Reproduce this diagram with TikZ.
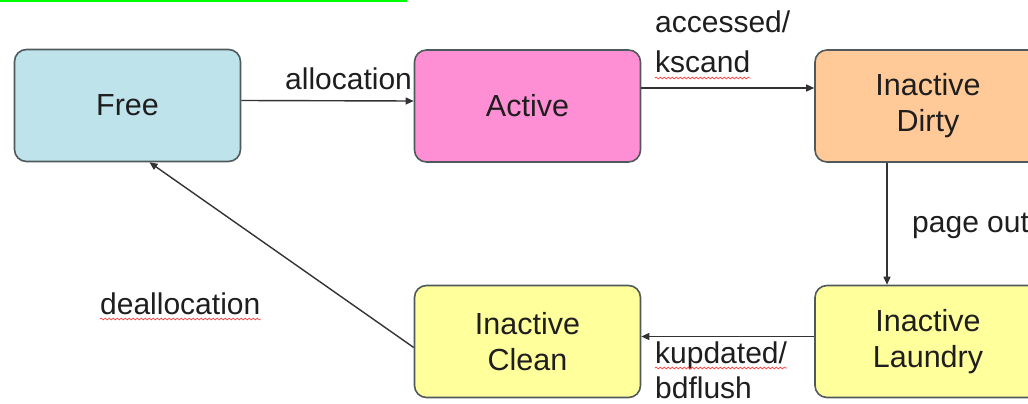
\documentclass[tikz,border=0pt]{standalone}
\usepackage{fontspec}
\setmainfont{Liberation Sans}
\usetikzlibrary{arrows.meta,calc,decorations.pathmorphing}
\definecolor{freeblue}{HTML}{BFE3EA}
\definecolor{activepink}{HTML}{FF8FD4}
\definecolor{dirtyorange}{HTML}{FFC998}
\definecolor{cleanyellow}{HTML}{FFFF9C}
\definecolor{boxline}{HTML}{505A5C}
\definecolor{arrowline}{HTML}{333333}
\definecolor{txt}{HTML}{1E1E1E}
\begin{document}
\begin{tikzpicture}[x=1pt,y=-1pt,
  state/.style={draw=boxline,line width=1.6pt,rounded corners=12pt,minimum width=226pt,minimum height=112pt,inner sep=0pt,align=center,text=txt,font=\fontsize{30.5}{36}\selectfont},
  trans/.style={draw=arrowline,line width=1.4pt,-{Triangle[length=8pt,width=7pt]}},
  lbl/.style={inner sep=0pt,anchor=base west,text=txt,font=\fontsize{30}{38}\selectfont},
  squiggle/.style={draw=red!75,line width=0.7pt,decorate,decoration={snake,amplitude=0.9pt,segment length=4pt}}]
\useasboundingbox (0,0) rectangle (1028,404);
\clip (0,0) rectangle (1028,404);
\fill[green] (0,0) rectangle (407,2.5);

\node[state,fill=freeblue] (free) at (127.5,105.5) {Free};
\node[state,fill=activepink] (active) at (527.5,106) {Active};
\node[state,fill=dirtyorange] (dirty) at (928,106) {Inactive\\Dirty};
\node[state,fill=cleanyellow] (clean) at (527.5,341.5) {Inactive\\Clean};
\node[state,fill=cleanyellow] (laundry) at (928,341.5) {Inactive\\Laundry};

\draw[trans] ($(free.east)+(0,-5)$) -- ($(active.west)+(0,-5)$);
\draw[trans] ($(active.east)+(0,-18)$) -- ($(dirty.west)+(0,-18)$);
\draw[trans] ($(dirty.south)+(-41,0)$) -- ($(laundry.north)+(-41,0)$);
\draw[trans] ($(laundry.west)+(0,-5)$) -- ($(clean.east)+(0,-5)$);
\draw[trans] ($(clean.west)+(0,6)$) -- ($(free.south)+(22,0)$);

\node[lbl] (lalloc) at (285,89) {allocation};
\node[lbl] (lacc) at (655,33) {accessed/};
\node[lbl] (lkscand) at (655,73) {kscand};
\node[lbl] (lpage) at (912,232) {page out};
\node[lbl] (lkup) at (655,363) {kupdated/};
\node[lbl] (lbdf) at (655,398) {bdflush};
\node[lbl] (ldealloc) at (100,314) {deallocation};

\draw[squiggle] ($(lkscand.base west)+(0,5)$) -- ($(lkscand.base east)+(0,5)$);
\draw[squiggle] ($(lkup.base west)+(0,5)$) -- ($(lkup.base east)+(0,5)$);
\draw[squiggle] ($(ldealloc.base west)+(0,5)$) -- ($(ldealloc.base east)+(0,5)$);
\end{tikzpicture}
\end{document}
